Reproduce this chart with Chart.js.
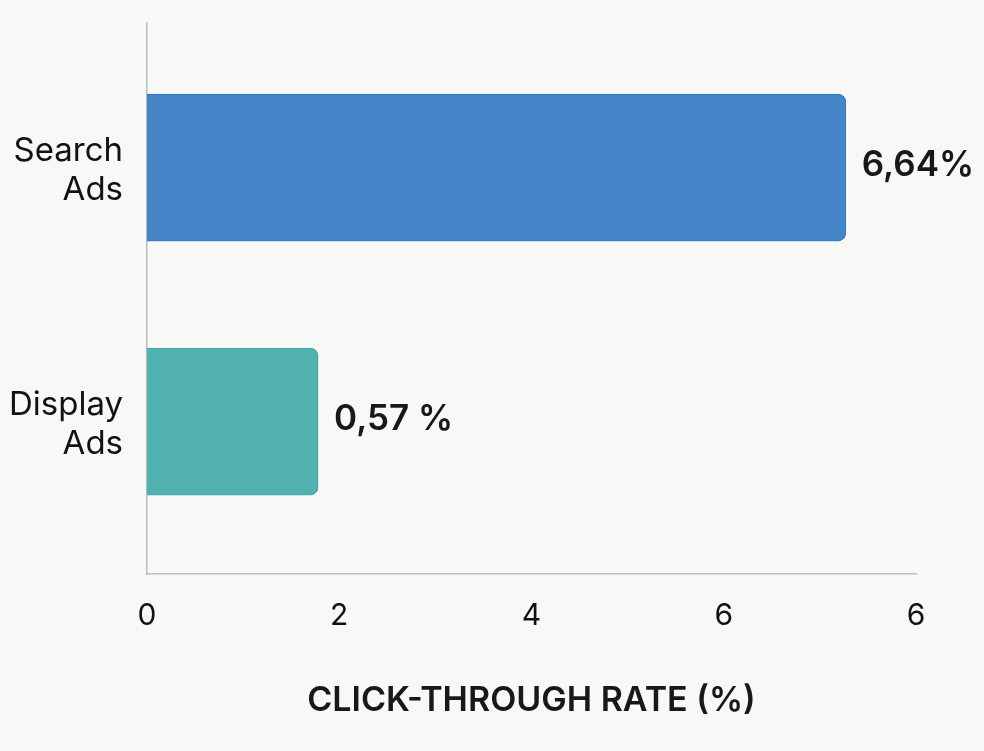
<!DOCTYPE html>
<html>
<head>
<meta charset="utf-8">
<script src="https://cdn.jsdelivr.net/npm/chart.js@4.4.0/dist/chart.umd.min.js"></script>
<style>
  html, body { margin: 0; padding: 0; background: #f8f8f7; }
  #wrap { width: 984px; height: 751px; }
</style>
</head>
<body>
<div id="wrap"><canvas id="ctrChart" width="984" height="751"></canvas></div>
<script>
var categories = [['Search', 'Ads'], ['Display', 'Ads']];
var ctrValues = [7.27, 1.78];          // bar lengths as read on the axis
var valueLabels = ['6,64%', '0,57 %'];  // text printed next to the bars
var xTickLabels = ['0', '2', '4', '6', '6'];
var barColors = ['#4686c8', '#52b2b0'];
var barBorders = ['#2f74c8', '#3ea8a5'];

var valueLabelPlugin = {
  id: 'valueLabels',
  afterDatasetsDraw: function (chart) {
    var ctx = chart.ctx;
    var meta = chart.getDatasetMeta(0);
    ctx.save();
    ctx.font = '600 35px Inter, "Noto Sans", sans-serif';
    ctx.fillStyle = '#16181b';
    ctx.textAlign = 'left';
    ctx.textBaseline = 'middle';
    meta.data.forEach(function (bar, i) {
      ctx.fillText(valueLabels[i], bar.x + 16, bar.y - 2);
    });
    ctx.restore();
  }
};

var ctx = document.getElementById('ctrChart').getContext('2d');
var ctrChart = new Chart(ctx, {
  type: 'bar',
  data: {
    datasets: [{
      data: ctrValues.map(function (v, i) { return { x: v, y: i }; }),
      backgroundColor: barColors,
      borderColor: barBorders,
      borderWidth: 1,
      borderRadius: { topRight: 8, bottomRight: 8 },
      borderSkipped: 'start',
      barThickness: 147
    }]
  },
  options: {
    indexAxis: 'y',
    responsive: false,
    animation: false,
    layout: {
      padding: { left: 0, right: 68, top: 23, bottom: 0 }
    },
    scales: {
      x: {
        type: 'linear',
        min: 0,
        max: 8,
        grid: { display: false, drawTicks: false },
        border: { display: true, color: '#bdbdbd', width: 1.5 },
        ticks: {
          stepSize: 2,
          padding: 24,
          color: '#111',
          font: { family: 'Inter, "Noto Sans", sans-serif', size: 30 },
          callback: function (value, index) { return xTickLabels[index]; }
        },
        title: {
          display: true,
          text: 'CLICK-THROUGH RATE (%)',
          color: '#16181b',
          font: { family: 'Inter, "Noto Sans", sans-serif', size: 34, weight: '600' },
          padding: { top: 0, bottom: 30 }
        },
        afterFit: function (scale) { scale.height = 177; }
      },
      y: {
        type: 'linear',
        reverse: true,
        offset: false,
        min: -0.569,
        max: 1.6,
        grid: { display: false, drawTicks: false },
        border: { display: true, color: '#bdbdbd', width: 1.5 },
        afterBuildTicks: function (scale) {
          scale.ticks = categories.map(function (c, i) { return { value: i }; });
        },
        ticks: {
          padding: 24,
          labelOffset: 3,
          color: '#111',
          font: { family: 'Inter, "Noto Sans", sans-serif', size: 33, lineHeight: 1.18 },
          callback: function (value) { return categories[value]; }
        },
        afterFit: function (scale) {
          scale.width = 147;
          scale.paddingTop = 0;
          scale.paddingBottom = 0;
        }
      }
    },
    plugins: {
      legend: { display: false },
      tooltip: { enabled: false }
    }
  },
  plugins: [valueLabelPlugin]
});
</script>
</body>
</html>
